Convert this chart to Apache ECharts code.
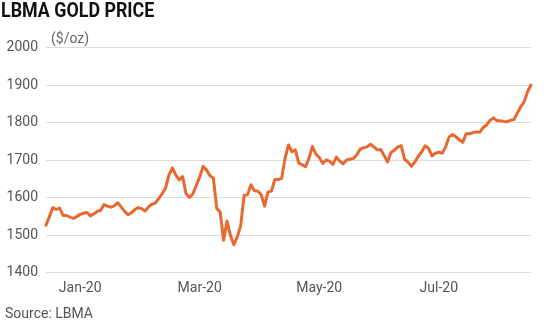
<!DOCTYPE html>
<html>
<head>
<meta charset="utf-8">
<script src="https://cdn.jsdelivr.net/npm/echarts@6/dist/echarts.min.js"></script>
<style>
html,body{margin:0;padding:0;background:#fff;}
#chart{width:560px;height:325px;}
</style>
</head>
<body>
<div id="chart"></div>
<script>
// Trading days (LBMA), 2020
var dates = [
 '01-02','01-03','01-06','01-07','01-08','01-09','01-10','01-13','01-14','01-15','01-16','01-17','01-20','01-21','01-22','01-23','01-24','01-27','01-28','01-29','01-30','01-31',
 '02-03','02-04','02-05','02-06','02-07','02-10','02-11','02-12','02-13','02-14','02-17','02-18','02-19','02-20','02-21','02-24','02-25','02-26','02-27','02-28',
 '03-02','03-03','03-04','03-05','03-06','03-09','03-10','03-11','03-12','03-13','03-16','03-17','03-18','03-19','03-20','03-23','03-24','03-25','03-26','03-27','03-30','03-31',
 '04-01','04-02','04-03','04-06','04-07','04-08','04-09','04-14','04-15','04-16','04-17','04-20','04-21','04-22','04-23','04-24','04-27','04-28','04-29','04-30',
 '05-01','05-04','05-05','05-06','05-07','05-11','05-12','05-13','05-14','05-15','05-18','05-19','05-20','05-21','05-22','05-26','05-27','05-28','05-29',
 '06-01','06-02','06-03','06-04','06-05','06-08','06-09','06-10','06-11','06-12','06-15','06-16','06-17','06-18','06-19','06-22','06-23','06-24','06-25','06-26','06-29','06-30',
 '07-01','07-02','07-03','07-06','07-07','07-08','07-09','07-10','07-13','07-14','07-15','07-16','07-17','07-20','07-21','07-22','07-23','07-24'
];
// Gold price, $/oz
var prices = [
 1526,1549,1573,1568,1572,1552,1552,1548,1544,1549,1555,1558,1560,1551,1556,1563,1566,1581,1577,1574,1578,1586,
 1575,1563,1554,1559,1568,1573,1570,1564,1575,1582,1585,1597,1610,1625,1660,1679,1660,1647,1656,1610,
 1600,1610,1632,1655,1683,1673,1658,1652,1571,1561,1486,1537,1499,1474,1495,1525,1606,1607,1634,1618,1617,1608,
 1577,1615,1617,1648,1648,1651,1705,1740,1722,1727,1692,1687,1682,1705,1736,1716,1707,1691,1700,1697,
 1688,1708,1697,1690,1700,1702,1704,1714,1729,1733,1735,1742,1735,1727,1728,1712,1695,1720,1726,
 1735,1738,1702,1694,1683,1695,1710,1722,1738,1731,1711,1718,1721,1718,1735,1761,1768,1762,1754,1747,1770,1770,
 1773,1775,1774,1787,1793,1806,1812,1805,1805,1803,1802,1806,1808,1825,1842,1855,1882,1900
];
// X tick labels and the dates they sit at
var tickLabels = ['Jan-20','Mar-20','May-20','Jul-20'];
var tickDates  = ['01-16','03-05','04-27','06-17'];
var yTicks = [1400,1500,1600,1700,1800,1900,2000];

var FONT = 'Roboto';
var chart = echarts.init(document.getElementById('chart'), null, {renderer:'canvas'});
chart.setOption({
  animation:false,
  backgroundColor:'#ffffff',
  title:[
    {text:'($/oz)', left:46, top:27,
     textStyle:{fontFamily:FONT, fontWeight:'normal', fontSize:14, color:'#666666'}},
    {text:'Source: LBMA', left:0, top:302,
     textStyle:{fontFamily:FONT, fontWeight:'normal', fontSize:14, color:'#555555'}}
  ],
  graphic:[{
    type:'text', left:1, top:1, scaleX:0.85, originX:0,
    style:{text:'LBMA GOLD PRICE', fontFamily:FONT, fontWeight:'bold', fontSize:21, fill:'#111111'}
  }],
  grid:{left:46, right:29, top:47.5, bottom:52.5, containLabel:false},
  xAxis:{
    type:'category',
    data:dates,
    boundaryGap:false,
    axisLine:{show:false},
    axisTick:{show:false},
    splitLine:{show:false},
    axisLabel:{
      interval:function(idx, val){ return tickDates.indexOf(val) >= 0; },
      formatter:function(val){ var k = tickDates.indexOf(val); return k >= 0 ? tickLabels[k] : ''; },
      fontFamily:FONT, fontSize:14, color:'#555555', margin:9
    }
  },
  yAxis:{
    type:'value',
    min:yTicks[0], max:yTicks[yTicks.length-1], interval:100,
    axisLine:{show:false},
    axisTick:{show:false},
    splitLine:{show:true, lineStyle:{color:'#dcdcdc', width:1}},
    axisLabel:{fontFamily:FONT, fontSize:14, color:'#555555', margin:8,
      formatter:function(v){ return String(v); }}
  },
  series:[{
    type:'line',
    data:prices,
    symbol:'none',
    smooth:false,
    lineStyle:{color:'#E8692F', width:3, join:'round', cap:'round'}
  }]
});
</script>
</body>
</html>
